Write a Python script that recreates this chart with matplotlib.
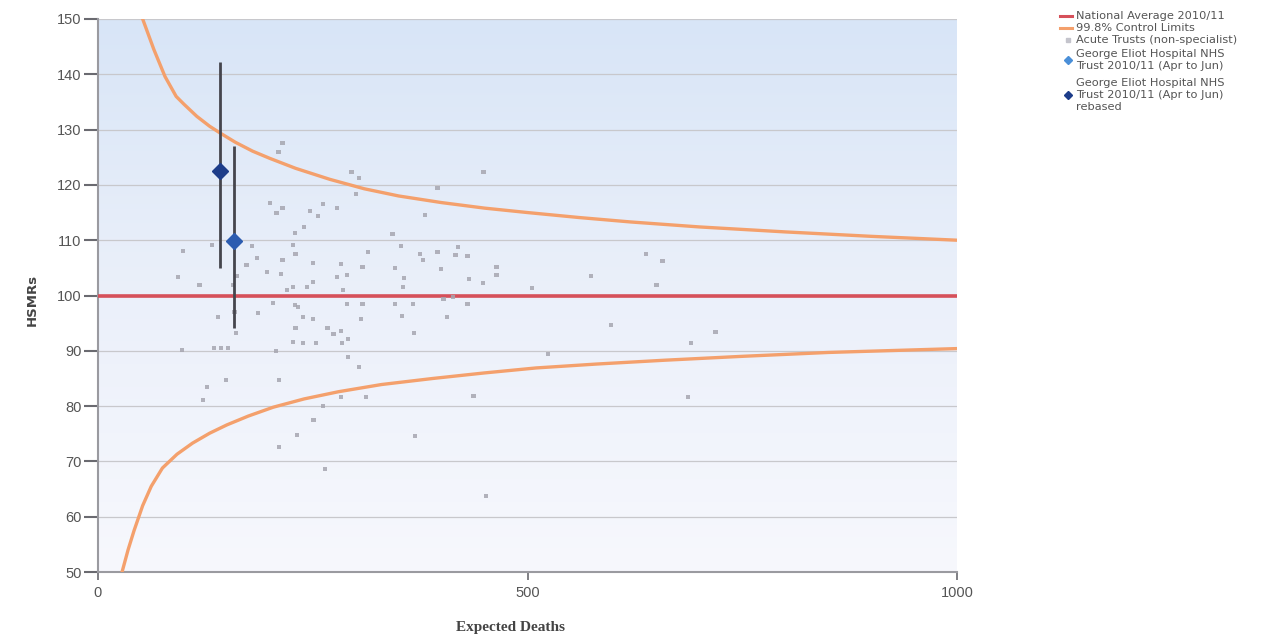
import numpy as np
import matplotlib
matplotlib.use("Agg")
import matplotlib.pyplot as plt
from matplotlib.lines import Line2D
from matplotlib.colors import LinearSegmentedColormap

# Acute trusts (non-specialist): expected deaths and HSMR
trust_expected = [99, 93, 118, 98, 133, 140, 135, 143, 151, 149, 127, 122, 161, 159,
                  162, 157, 173, 179, 185, 186, 197, 200, 208, 215, 210, 215, 204, 207,
                  211, 211, 213, 215, 227, 229, 240, 230, 220, 227, 243, 250, 229, 233,
                  239, 250, 230, 227, 239, 254, 232, 251, 262, 247, 256, 262, 250, 264,
                  267, 274, 283, 284, 291, 278, 283, 278, 290, 285, 290, 308, 306, 291,
                  304, 283, 312, 295, 304, 300, 308, 314, 343, 353, 346, 356, 355, 346,
                  367, 354, 368, 369, 381, 395, 375, 378, 395, 399, 419, 416, 430, 432,
                  448, 402, 413, 430, 406, 437, 452, 449, 464, 464, 505, 524, 574, 597,
                  638, 650, 657, 690, 719, 687]
trust_hsmr = [108.0, 103.3, 101.9, 90.1, 109.1, 96.1, 90.5, 90.5, 90.5, 84.7, 83.5, 81.1,
              93.2, 97.0, 103.5, 101.9, 105.5, 109.0, 106.8, 96.8, 104.3, 116.7, 114.9,
              115.8, 126.0, 127.6, 98.6, 90.0, 84.7, 72.6, 103.9, 106.4, 109.1, 111.3,
              112.4, 107.5, 101.0, 101.5, 101.5, 102.4, 98.3, 97.9, 96.1, 95.8, 94.1,
              91.6, 91.4, 91.4, 74.8, 77.5, 80.0, 115.3, 114.4, 116.5, 105.9, 68.6, 94.1,
              93.0, 93.6, 91.4, 92.1, 115.8, 105.7, 103.3, 103.7, 101.0, 98.5, 98.5,
              95.8, 88.9, 87.1, 81.6, 81.6, 122.3, 121.2, 118.4, 105.2, 107.9, 111.1,
              109.0, 105.0, 103.2, 101.5, 98.5, 98.5, 96.3, 93.2, 74.6, 114.6, 119.4,
              107.5, 106.4, 107.9, 104.8, 108.8, 107.3, 107.1, 103.0, 102.3, 99.4, 99.7,
              98.5, 96.1, 81.8, 63.7, 122.3, 105.2, 103.7, 101.4, 89.4, 103.5, 94.7,
              107.5, 101.9, 106.2, 91.4, 93.4, 81.6]

# 99.8% control limits
upper_expected = [52, 65, 78, 91, 100, 115, 130, 142, 160, 180, 200, 230, 270, 310,
                  350, 400, 450, 500, 560, 620, 700, 800, 900, 1000]
upper_limit = [150.0, 144.5, 139.6, 136.0, 134.6, 132.4, 130.6, 129.4, 127.7,
               126.1, 124.8, 123.0, 121.0, 119.3, 118.0, 116.8, 115.8, 115.0, 114.1,
               113.3, 112.4, 111.5, 110.7, 110.0]
lower_expected = [28, 35, 42, 52, 62, 75, 92, 110, 130, 150, 175, 204, 240, 280, 330,
                  390, 450, 510, 580, 660, 750, 850, 1000]
lower_limit = [50.0, 54.0, 57.5, 62.0, 65.5, 68.8, 71.3, 73.3, 75.1, 76.6, 78.2, 79.8,
               81.3, 82.6, 83.9, 85.0, 86.0, 86.9, 87.6, 88.3, 89.0, 89.7, 90.4]

national_average = 100

# George Eliot Hospital NHS Trust 2010/11 (Apr to Jun)
ge_expected = 158
ge_hsmr = 109.9
ge_ci = (94.1, 127.0)
# rebased
ge_rb_expected = 142
ge_rb_hsmr = 122.5
ge_rb_ci = (105.0, 142.2)

x_ticks = [0, 500, 1000]
y_ticks = list(range(50, 151, 10))

W, H = 1278, 637
fig = plt.figure(figsize=(W / 100, H / 100), dpi=100)
ax = fig.add_axes([98 / W, 1 - 572 / H, (957 - 98) / W, (572 - 19) / H])
ax.set_xlim(0, 1000)
ax.set_ylim(50, 150)

# plot-area gradient
cmap = LinearSegmentedColormap.from_list("bg", ["#f7f8fd", "#ebf0fa", "#d8e5f7"])
grad = np.linspace(0, 1, 256).reshape(-1, 1)
ax.imshow(grad, extent=[0, 1000, 50, 150], origin="lower", aspect="auto",
          cmap=cmap, zorder=0)

for yv in y_ticks:
    ax.axhline(yv, color="#c8c8cc", lw=0.9, zorder=1)

ax.plot(upper_expected, upper_limit, color="#f4a06c", lw=2.4, zorder=3)
ax.plot(lower_expected, lower_limit, color="#f4a06c", lw=2.4, zorder=3)
ax.axhline(national_average, color="#d6505a", lw=2.6, zorder=3)

ax.scatter(trust_expected, trust_hsmr, marker="s", s=10, color="#a6a6b0",
           edgecolors="none", alpha=0.85, zorder=4)

ax.vlines([ge_rb_expected], ge_rb_ci[0], ge_rb_ci[1], color="#45454d", lw=2, zorder=5)
ax.vlines([ge_expected], ge_ci[0], ge_ci[1], color="#45454d", lw=2, zorder=5)
ax.plot([ge_expected], [ge_hsmr], marker="D", ms=8, color="#2c5cb0", zorder=6)
ax.plot([ge_rb_expected], [ge_rb_hsmr], marker="D", ms=8, color="#1d3d8a", zorder=6)

for side in ("top", "right"):
    ax.spines[side].set_visible(False)
for side in ("left", "bottom"):
    ax.spines[side].set_color("#9a9aa0")
    ax.spines[side].set_linewidth(1.5)

ax.set_xticks(x_ticks)
ax.set_yticks(y_ticks)
ax.tick_params(axis="y", direction="out", length=10, width=1.5, color="#6a6a70",
               labelsize=10.5, labelcolor="#555555", pad=2)
ax.tick_params(axis="x", direction="out", length=6, width=1.2, color="#6a6a70",
               labelsize=10.5, labelcolor="#555555", pad=4)
for lab in ax.get_xticklabels() + ax.get_yticklabels():
    lab.set_family("Liberation Sans")

fig.text(32 / W, 1 - 300 / H, "HSMRs", rotation=90, ha="center", va="center",
         fontsize=9.5, fontweight="bold", color="#444444", family="DejaVu Sans")
fig.text(510 / W, 1 - 627 / H, "Expected Deaths", ha="center", va="center",
         fontsize=11, fontweight="bold", color="#444444", family="Liberation Serif")

# legend, drawn entry by entry in figure pixels
legend_entries = [
    (dict(color="#d6505a", lw=2.2), ["National Average 2010/11"], [16]),
    (dict(color="#f4a06c", lw=2.2), ["99.8% Control Limits"], [28]),
    (dict(marker="s", ls="none", ms=2.5, color="#c4c4cc"),
     ["Acute Trusts (non-specialist)"], [40]),
    (dict(marker="D", ls="none", ms=4, color="#4a8fd8"),
     ["George Eliot Hospital NHS", "Trust 2010/11 (Apr to Jun)"], [54, 66]),
    (dict(marker="D", ls="none", ms=4, color="#1d3d8a"),
     ["George Eliot Hospital NHS", "Trust 2010/11 (Apr to Jun)", "rebased"],
     [83, 95, 107]),
]
for style, lines, ys in legend_entries:
    ymid = 1 - (sum(ys) / len(ys)) / H
    if style.get("ls") == "none":
        fig.add_artist(Line2D([1068 / W], [ymid], transform=fig.transFigure, **style))
    else:
        fig.add_artist(Line2D([1060 / W, 1072 / W], [ymid, ymid],
                              transform=fig.transFigure, **style))
    for text, y in zip(lines, ys):
        fig.text(1076 / W, 1 - y / H, text, ha="left", va="center", fontsize=8.2,
                 color="#555555", family="DejaVu Sans")

fig.savefig("out.png", dpi=100, facecolor="white")
